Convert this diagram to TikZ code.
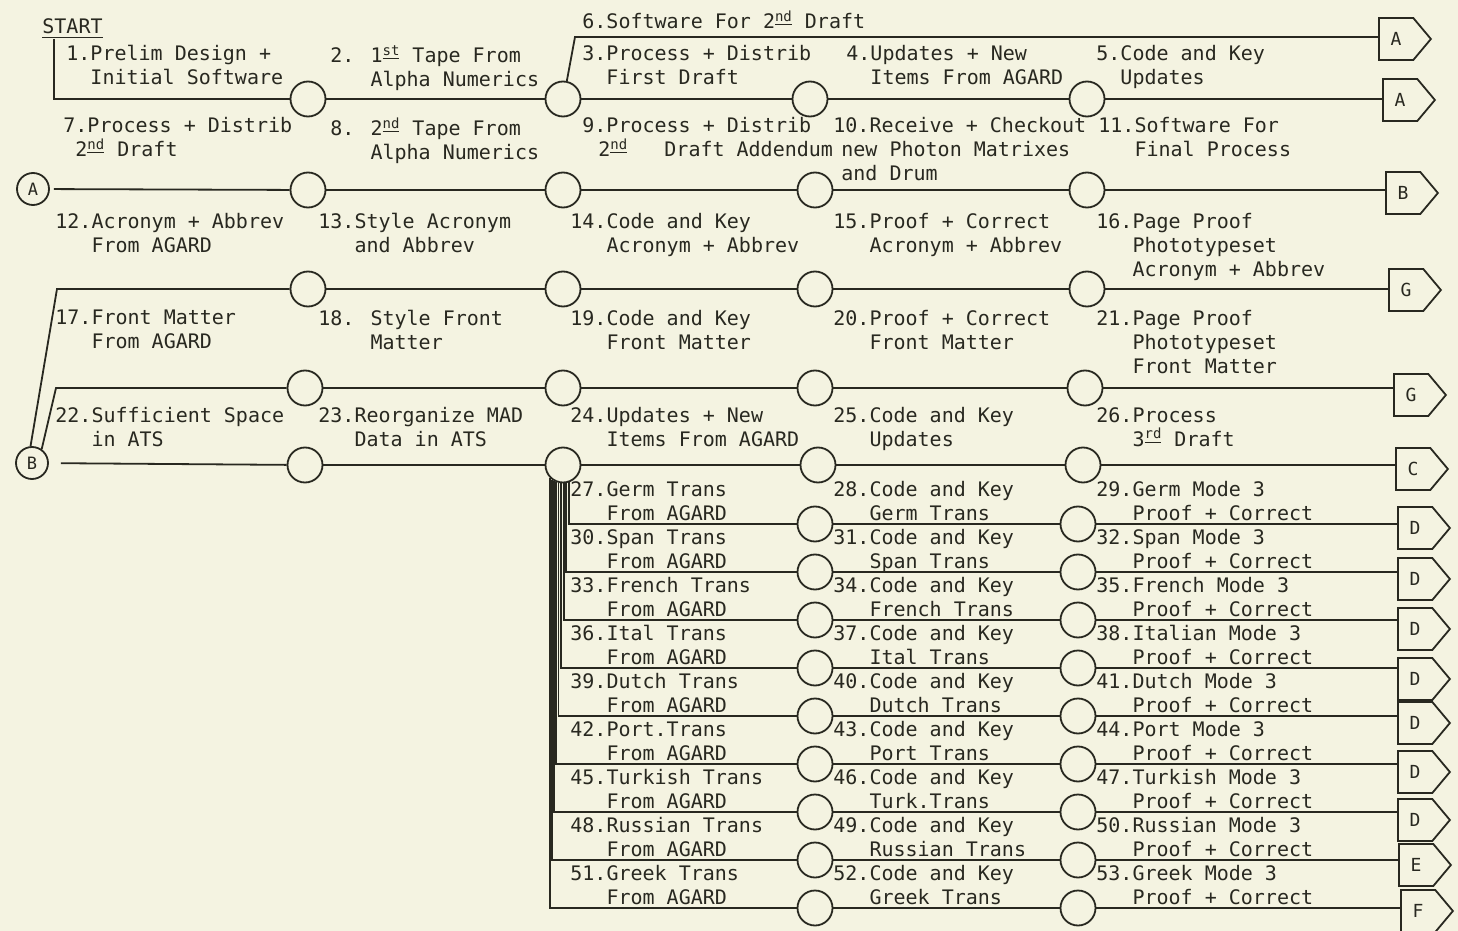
\documentclass[tikz,border=0pt]{standalone}
\usepackage{fontspec}
\usepackage{tikz}
\usetikzlibrary{shapes.symbols}
\usetikzlibrary{calc}
\newfontfamily\typew{DejaVu Sans Mono}
\newcommand{\tw}{\typew\fontsize{10}{12}\selectfont}
\newcommand{\ordsup}[1]{\textsuperscript{\underline{#1}}}
\newcommand{\evtsize}{17.5pt}
\definecolor{paper}{RGB}{244,243,225}
\definecolor{ink}{RGB}{40,40,32}
\tikzset{evt/.style={circle, draw=ink, line width=0.9pt, fill=none, inner sep=0pt, minimum size=\evtsize}}
\tikzset{onpage/.style={circle, draw=ink, line width=0.9pt, inner sep=0pt, minimum size=16pt, text=ink, font=\typew\fontsize{8.5}{10}\selectfont}}
\tikzset{offpage/.style={signal, signal to=east, signal pointer angle=100, draw=ink, line width=0.9pt, inner sep=0pt, minimum width=26pt, minimum height=21pt, text=ink, font=\typew\fontsize{9}{10}\selectfont}}
\tikzset{task/.style={anchor=north west, inner sep=0pt, yshift=-1.5pt, align=left, font=\tw, text=ink, execute at begin node=\strut}}
\tikzset{flow/.style={draw=ink, line width=0.9pt}}

\begin{document}
\begin{tikzpicture}[x=0.5pt, y=-0.5pt]

\fill[paper] (0,0) rectangle (1458,931);
\useasboundingbox (0,0) rectangle (1458,931);

\node[anchor=base west, inner sep=0pt, font=\tw, text=ink] (start) at (42,34) {\underline{START}};
\coordinate (s0) at (54,39);

\node[onpage] (onA) at (33,189) {A};
\node[onpage] (onB) at (32,463) {B};

\node[evt] (e11) at (308,99) {};
\node[evt] (e12) at (563,99) {};
\node[evt] (e13) at (810,99) {};
\node[evt] (e14) at (1087,99) {};
\node[evt] (e21) at (308,190) {};
\node[evt] (e22) at (563,190) {};
\node[evt] (e23) at (815,190) {};
\node[evt] (e24) at (1087,190) {};
\node[evt] (e31) at (308,289) {};
\node[evt] (e32) at (563,289) {};
\node[evt] (e33) at (815,289) {};
\node[evt] (e34) at (1087,289) {};
\node[evt] (e41) at (305,388) {};
\node[evt] (e42) at (563,388) {};
\node[evt] (e43) at (815,388) {};
\node[evt] (e44) at (1085,388) {};
\node[evt] (e51) at (305,465) {};
\node[evt] (e52) at (563,465) {};
\node[evt] (e53) at (818,465) {};
\node[evt] (e54) at (1083,465) {};

\node[evt] (m1) at (815,524) {};
\node[evt] (m2) at (815,572) {};
\node[evt] (m3) at (815,620) {};
\node[evt] (m4) at (815,668) {};
\node[evt] (m5) at (815,716) {};
\node[evt] (m6) at (815,764) {};
\node[evt] (m7) at (815,812) {};
\node[evt] (m8) at (815,860) {};
\node[evt] (m9) at (815,908) {};
\node[evt] (n1) at (1078,524) {};
\node[evt] (n2) at (1078,572) {};
\node[evt] (n3) at (1078,620) {};
\node[evt] (n4) at (1078,668) {};
\node[evt] (n5) at (1078,716) {};
\node[evt] (n6) at (1078,764) {};
\node[evt] (n7) at (1078,812) {};
\node[evt] (n8) at (1078,860) {};
\node[evt] (n9) at (1078,908) {};

\node[offpage, anchor=west] (offA1) at (1378,39) {A};
\node[offpage, anchor=west] (offA2) at (1382,100) {A};
\node[offpage, anchor=west] (offB) at (1385,193) {B};
\node[offpage, anchor=west] (offG1) at (1388,290) {G};
\node[offpage, anchor=west] (offG2) at (1393,395) {G};
\node[offpage, anchor=west] (offC) at (1395,469) {C};
\node[offpage, anchor=west] (offD1) at (1397,528) {D};
\node[offpage, anchor=west] (offD2) at (1397,579) {D};
\node[offpage, anchor=west] (offD3) at (1397,629) {D};
\node[offpage, anchor=west] (offD4) at (1397,679) {D};
\node[offpage, anchor=west] (offD5) at (1397,723) {D};
\node[offpage, anchor=west] (offD6) at (1397,772) {D};
\node[offpage, anchor=west] (offD7) at (1397,820) {D};
\node[offpage, anchor=west] (offE) at (1398,865) {E};
\node[offpage, anchor=west] (offF) at (1400,911) {F};

\coordinate (k6) at (575,37);
\coordinate (k3) at (57,289);
\coordinate (k4) at (56,388);

\draw[flow] (s0) |- (e11);
\draw[flow] (e11) -- (e12) (e12) -- (e13) (e13) -- (e14) (e14) -- (e14 -| offA2.west);
\draw[flow] (e12.78) -- (k6) -- (k6 -| offA1.west);
\draw[flow, shorten <=2pt] (onA) -- (e21);
\draw[flow] (e21) -- (e22) (e22) -- (e23) (e23) -- (e24) (e24) -- (e24 -| offB.west);
\draw[flow] (onB.95) -- (k3) -- (e31);
\draw[flow] (e31) -- (e32) (e32) -- (e33) (e33) -- (e34) (e34) -- (e34 -| offG1.west);
\draw[flow] (onB.55) -- (k4) -- (e41);
\draw[flow] (e41) -- (e42) (e42) -- (e43) (e43) -- (e44) (e44) -- (e44 -| offG2.west);
\draw[flow, shorten <=6pt] (onB) -- (e51);
\draw[flow] (e51) -- (e52) (e52) -- (e53) (e53) -- (e54) (e54) -- (e54 -| offC.west);

\draw[flow] (e52.290) |- (m1);
\draw[flow] (e52.280) |- (m2);
\draw[flow] (e52.272) |- (m3);
\draw[flow] (e52.264) |- (m4);
\draw[flow] (e52.256) |- (m5);
\draw[flow] (e52.248) |- (m6);
\draw[flow] (e52.240) |- (m7);
\draw[flow] (e52.232) |- (m8);
\draw[flow] (e52.224) |- (m9);
\draw[flow] (m1) -- (n1) (n1) -- (n1 -| offD1.west);
\draw[flow] (m2) -- (n2) (n2) -- (n2 -| offD2.west);
\draw[flow] (m3) -- (n3) (n3) -- (n3 -| offD3.west);
\draw[flow] (m4) -- (n4) (n4) -- (n4 -| offD4.west);
\draw[flow] (m5) -- (n5) (n5) -- (n5 -| offD5.west);
\draw[flow] (m6) -- (n6) (n6) -- (n6 -| offD6.west);
\draw[flow] (m7) -- (n7) (n7) -- (n7 -| offD7.west);
\draw[flow] (m8) -- (n8) (n8) -- (n8 -| offE.west);
\draw[flow] (m9) -- (n9) (n9) -- (n9 -| offF.west);

\node[task] (t1) at (66,42) {1.Prelim Design +\\\phantom{1.}Initial Software};
\node[task] (t2) at (330,42) {2. 1\ordsup{st} Tape From\\\phantom{2. }Alpha Numerics};
\node[task] (t3) at (582,42) {3.Process + Distrib\\\phantom{3.}First Draft};
\node[task] (t4) at (846,42) {4.Updates + New\\\phantom{4.}Items From AGARD};
\node[task] (t5) at (1096,42) {5.Code and Key\\\phantom{5.}Updates};
\node[task] (t6) at (582,7) {6.Software For 2\ordsup{nd} Draft};
\node[task] (t7) at (63,114) {7.Process + Distrib\\\phantom{7}2\ordsup{nd} Draft};
\node[task] (t8) at (330,114) {8. 2\ordsup{nd} Tape From\\\phantom{8. }Alpha Numerics};
\node[task] (t9) at (582,114) {9.Process + Distrib\\\hspace*{8pt}2\ordsup{nd}\ \ \ Draft Addendum};
\node[task] (t10) at (833,114) {10.Receive + Checkout\\\hspace*{4pt}new Photon Matrixes\\\hspace*{4pt}and Drum};
\node[task] (t11) at (1098,114) {11.Software For\\\phantom{11.}Final Process};
\node[task] (t12) at (55,210) {12.Acronym + Abbrev\\\phantom{12.}From AGARD};
\node[task] (t13) at (318,210) {13.Style Acronym\\\phantom{13.}and Abbrev};
\node[task] (t14) at (570,210) {14.Code and Key\\\phantom{14.}Acronym + Abbrev};
\node[task] (t15) at (833,210) {15.Proof + Correct\\\phantom{15.}Acronym + Abbrev};
\node[task] (t16) at (1096,210) {16.Page Proof\\\phantom{16.}Phototypeset\\\phantom{16.}Acronym + Abbrev};
\node[task] (t17) at (55,307) {17.Front Matter\\\phantom{17.}From AGARD};
\node[task] (t18) at (318,307) {18. Style Front\\\phantom{18. }Matter};
\node[task] (t19) at (570,307) {19.Code and Key\\\phantom{19.}Front Matter};
\node[task] (t20) at (833,307) {20.Proof + Correct\\\phantom{20.}Front Matter};
\node[task] (t21) at (1096,307) {21.Page Proof\\\phantom{21.}Phototypeset\\\phantom{21.}Front Matter};
\node[task] (t22) at (55,404) {22.Sufficient Space\\\phantom{22.}in ATS};
\node[task] (t23) at (318,404) {23.Reorganize MAD\\\phantom{23.}Data in ATS};
\node[task] (t24) at (570,404) {24.Updates + New\\\phantom{24.}Items From AGARD};
\node[task] (t25) at (833,404) {25.Code and Key\\\phantom{25.}Updates};
\node[task] (t26) at (1096,404) {26.Process\\\phantom{26.}3\ordsup{rd} Draft};

\node[task] (t27) at (570,478) {27.Germ Trans\\\phantom{27.}From AGARD};
\node[task] (t28) at (833,478) {28.Code and Key\\\phantom{28.}Germ Trans};
\node[task] (t29) at (1096,478) {29.Germ Mode 3\\\phantom{29.}Proof + Correct};
\node[task] (t30) at (570,526) {30.Span Trans\\\phantom{30.}From AGARD};
\node[task] (t31) at (833,526) {31.Code and Key\\\phantom{31.}Span Trans};
\node[task] (t32) at (1096,526) {32.Span Mode 3\\\phantom{32.}Proof + Correct};
\node[task] (t33) at (570,574) {33.French Trans\\\phantom{33.}From AGARD};
\node[task] (t34) at (833,574) {34.Code and Key\\\phantom{34.}French Trans};
\node[task] (t35) at (1096,574) {35.French Mode 3\\\phantom{35.}Proof + Correct};
\node[task] (t36) at (570,622) {36.Ital Trans\\\phantom{36.}From AGARD};
\node[task] (t37) at (833,622) {37.Code and Key\\\phantom{37.}Ital Trans};
\node[task] (t38) at (1096,622) {38.Italian Mode 3\\\phantom{38.}Proof + Correct};
\node[task] (t39) at (570,670) {39.Dutch Trans\\\phantom{39.}From AGARD};
\node[task] (t40) at (833,670) {40.Code and Key\\\phantom{40.}Dutch Trans};
\node[task] (t41) at (1096,670) {41.Dutch Mode 3\\\phantom{41.}Proof + Correct};
\node[task] (t42) at (570,718) {42.Port.Trans\\\phantom{42.}From AGARD};
\node[task] (t43) at (833,718) {43.Code and Key\\\phantom{43.}Port Trans};
\node[task] (t44) at (1096,718) {44.Port Mode 3\\\phantom{44.}Proof + Correct};
\node[task] (t45) at (570,766) {45.Turkish Trans\\\phantom{45.}From AGARD};
\node[task] (t46) at (833,766) {46.Code and Key\\\phantom{46.}Turk.Trans};
\node[task] (t47) at (1096,766) {47.Turkish Mode 3\\\phantom{47.}Proof + Correct};
\node[task] (t48) at (570,814) {48.Russian Trans\\\phantom{48.}From AGARD};
\node[task] (t49) at (833,814) {49.Code and Key\\\phantom{49.}Russian Trans};
\node[task] (t50) at (1096,814) {50.Russian Mode 3\\\phantom{50.}Proof + Correct};
\node[task] (t51) at (570,862) {51.Greek Trans\\\phantom{51.}From AGARD};
\node[task] (t52) at (833,862) {52.Code and Key\\\phantom{52.}Greek Trans};
\node[task] (t53) at (1096,862) {53.Greek Mode 3\\\phantom{53.}Proof + Correct};

\end{tikzpicture}
\end{document}
